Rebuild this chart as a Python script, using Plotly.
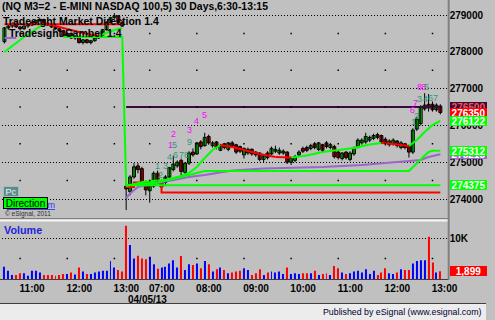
import plotly.graph_objects as go

FONT = "Liberation Sans, Arial, sans-serif"
W, H = 495, 320

# ------------------------------------------------------------------ data
# bar index: 0 = 04/05/13 06:30 (5-minute bars); negative = previous session
day1_first = -31
day1_open = [278275, 278650, 278700, 278750, 278675, 278625, 278700, 278725, 278800, 278850,
             278875, 278775, 278725, 278675, 278625, 278575, 278425, 278500, 278375, 278400,
             278250, 278325, 278250, 278300, 278375, 278450, 278600, 278800, 278925, 278975, 278800]
day1_high = [278675, 278750, 278800, 278800, 278700, 278725, 278775, 278825, 278875, 278925,
             278900, 278800, 278750, 278700, 278650, 278600, 278525, 278525, 278450, 278425,
             278350, 278350, 278325, 278400, 278475, 278625, 278825, 278950, 279050, 279000, 278850]
day1_low = [278225, 278600, 278650, 278650, 278575, 278600, 278650, 278700, 278750, 278825,
            278750, 278700, 278650, 278600, 278550, 278400, 278400, 278350, 278325, 278225,
            278200, 278225, 278200, 278275, 278350, 278425, 278575, 278775, 278900, 278775, 278675]
day1_close = [278650, 278700, 278750, 278675, 278625, 278700, 278725, 278800, 278850, 278875,
              278775, 278725, 278675, 278625, 278575, 278425, 278500, 278375, 278400, 278250,
              278325, 278250, 278300, 278375, 278450, 278600, 278800, 278925, 278975, 278800, 278700]

day2_open = [274350, 274200, 274600, 274900, 274825, 274450, 274225, 274350, 274700, 274325,
             274450, 274600, 274800, 274900, 275050, 274725, 274975, 275275, 275225, 275550,
             275450, 275700, 275450, 275550, 275325, 275500, 275350, 275525, 275475, 275425,
             275200, 275250, 275350, 275275, 275250, 275075, 275250, 275225, 275300, 275250,
             275250, 275275, 275000, 275050, 275200, 275375, 275400, 275375, 275500, 275350,
             275475, 275525, 275400, 275425, 275275, 275100, 275275, 275075, 275225, 275400,
             275525, 275550, 275600, 275650, 275750, 275725, 275625, 275475, 275500, 275575,
             275400, 275500, 275425, 275275, 275900, 276050, 276450, 276575, 276575, 276425,
             276525]
day2_high = [274450, 274650, 274975, 274975, 274875, 274500, 274450, 274750, 274775, 274525,
             274650, 274875, 275175, 275050, 275100, 275000, 275300, 275375, 275550, 275600,
             275800, 275750, 275575, 275575, 275500, 275525, 275550, 275575, 275500, 275450,
             275400, 275400, 275375, 275300, 275275, 275225, 275300, 275425, 275450, 275400,
             275350, 275300, 275150, 275200, 275325, 275425, 275450, 275500, 275550, 275550,
             275500, 275575, 275525, 275475, 275325, 275275, 275300, 275300, 275425, 275650,
             275650, 275800, 275725, 275775, 275800, 275750, 275675, 275625, 275650, 275600,
             275575, 275525, 275475, 275925, 276225, 276550, 276875, 276850, 276650, 276600,
             276575]
day2_low = [273700, 274100, 274550, 274700, 274350, 274100, 273900, 274300, 274400, 274250,
            274350, 274550, 274750, 274850, 274550, 274650, 274925, 275150, 275200, 275350,
            275425, 275475, 275400, 275350, 275300, 275350, 275300, 275400, 275225, 275250,
            275100, 275200, 275175, 275150, 275025, 275000, 275075, 275200, 275250, 275200,
            275200, 274950, 274925, 275000, 275150, 275250, 275275, 275325, 275350, 275300,
            275275, 275375, 275350, 275100, 275075, 275050, 275075, 275025, 275175, 275375,
            275475, 275500, 275550, 275600, 275625, 275500, 275450, 275425, 275450, 275400,
            275350, 275350, 275125, 275225, 275850, 276000, 276400, 276375, 276375, 276375,
            276300]
day2_close = [274275, 274600, 274875, 274800, 274400, 274250, 274425, 274700, 274450, 274475,
              274600, 274850, 274950, 275000, 274750, 274975, 275250, 275200, 275525, 275425,
              275675, 275525, 275525, 275400, 275450, 275400, 275525, 275450, 275275, 275300,
              275375, 275350, 275225, 275200, 275075, 275175, 275125, 275375, 275350, 275325,
              275300, 275000, 275100, 275150, 275275, 275300, 275325, 275450, 275400, 275525,
              275325, 275425, 275475, 275150, 275125, 275250, 275125, 275250, 275375, 275600,
              275600, 275700, 275675, 275725, 275675, 275550, 275525, 275575, 275600, 275450,
              275525, 275400, 275275, 275875, 276175, 276500, 276550, 276475, 276425, 276550,
              276350]

vol_day1 = [3000, 2000, 1000, 1000, 1400, 1400, 800, 2000, 2000, 1600,
            1000, 1000, 1000, 800, 1000, 1200, 1200, 1600, 1100, 2800,
            1800, 1200, 1200, 1600, 1800, 2000, 2000, 4400, 2800, 2200, 1800]
vol_day2 = [13000, 8300, 5000, 5700, 5000, 4800, 5400, 3600, 2500, 2800,
            3000, 3800, 4600, 2800, 5600, 2200, 3600, 3400, 3800, 2600,
            4400, 3600, 1800, 2400, 2800, 2200, 1400, 1600, 1800, 2000,
            2600, 2200, 1000, 1400, 2400, 1000, 1600, 1800, 1600, 1800,
            1200, 2800, 1200, 1400, 1200, 1400, 1400, 1400, 2000, 1000,
            1200, 1400, 1000, 3200, 2600, 1600, 1200, 1400, 1800, 2000,
            1600, 2400, 1200, 2000, 1000, 1600, 2600, 1400, 1200, 1600,
            2400, 2200, 2200, 3800, 4400, 4600, 4600, 10300, 4000, 1600,
            1899]

# Tradesight Market Direction (colour follows slope)
ma1_idx = [-31, -26, -21, -19, -15, -11, -7, -5, -3, -1]
ma1_val = [277995, 278402, 278755, 278728, 278620, 278511, 278429, 278511, 278592, 278647]
ma2_idx = [0, 4, 8, 10, 12, 14, 16, 18, 20, 22, 24, 27, 30, 34, 38, 42, 46, 50, 54, 58,
           62, 65, 68, 72, 74, 76, 78, 80]
ma2_val = [274350, 274460, 274500, 274517, 274571, 274626, 274707, 274870, 275115, 275332,
           275468, 275414, 275332, 275223, 275142, 275125, 275183, 275278, 275332, 275386,
           275481, 275522, 275495, 275441, 275604, 275821, 276011, 276122]
# Tradesight Camber bands
band_g_idx = [0, 8, 14, 20, 72, 75, 77, 78, 80]
band_g_val = [274375, 274450, 274598, 274761, 274761, 275060, 275278, 275312, 275312]
band_p1_idx = [-31, -28]
band_p1_val = [278375, 278375]
band_p2_idx = [0, 1, 3, 4, 8, 12, 16, 20, 23, 27, 35, 50, 60, 70, 73, 75, 77, 80]
band_p2_val = [274028, 274150, 274327, 274354, 274435, 274517, 274598, 274653, 274707, 274775,
               274830, 274870, 274925, 275006, 275033, 275060, 275142, 275215]
# levels
lvl_green_idx = [-16, -1, 0, 80]
lvl_green_val = [278400, 278400, 274375, 274375]
lvl_red1_idx = [-31, -1]
lvl_red1_val = [278750, 278750]
lvl_red2_idx = [0, 2, 9, 80]
lvl_red2_val = [274325, 274450, 274175, 274175]
lvl_purple_idx = [0, 80]
lvl_purple_val = [276500, 276500]

# TD-style counts: (label, bar index, price, kind)
td_text = ['1', '2', '3', '4', '5', '6', '7', '8', '9', '1', '2', '3', '4', '5',
           '1', '2', '6', '7', '3', '4', '8', '8', '5', '6', '7']
td_idx = [8, 8.8, 10, 11, 12.4, 12.6, 14, 15.3, 16, 11.3, 12, 16, 18, 20,
          73.2, 74, 72.8, 73.7, 74.8, 76.3, 74.8, 75.6, 76.6, 77.5, 78.8]
td_price = [274897, 274653, 274897, 275142, 275468, 275196, 275196, 275196, 275549, 275468,
            275767, 275875, 276120, 276283,
            276093, 276256, 276419, 276610, 276718, 276718, 277044, 277044, 277044, 276745, 276745]
td_kind = ['b', 'b', 'b', 'b', 'b', 'b', 'b', 'b', 'b', 's', 's', 's', 's', 's',
           'b', 'b', 's', 's', 'b', 'b', 's', 's', 'b', 'b', 'b']

time_tick_idx = [-27, -15, -3, 6, 18, 30, 42, 54, 66, 78]
time_tick_text = ['11:00', '12:00', '13:00', '07:00', '08:00', '09:00', '10:00', '11:00', '12:00', '13:00']
date_idx = 0
date_text = '04/05/13'
price_ticks = [274000, 275000, 276000, 277000, 278000, 279000]
vol_ticks = [10000]
vol_tick_text = ['10K']

title_text = '(NQ M3=2 - E-MINI NASDAQ 100,5) 30 Days,6:30-13:15'

# ------------------------------------------------------------------ build
GREEN, RED, BLUE = '#00FF00', '#FF0000', '#0000FF'
PURPLE, DPURPLE = '#9966CC', '#3A0A3A'
TEAL, MAGENTA = '#2E9A78', '#FF00FF'

idx = list(range(day1_first, day1_first + len(day1_open))) + list(range(0, len(day2_open)))
o = day1_open + day2_open
h = day1_high + day2_high
l = day1_low + day2_low
c = day1_close + day2_close
vol = vol_day1 + vol_day2
up = [cc >= oo for oo, cc in zip(o, c)]

fig = go.Figure()

# wicks
wx, wy = [], []
for i, hi, lo in zip(idx, h, l):
    wx += [i, i, None]
    wy += [lo, hi, None]
fig.add_trace(go.Scatter(x=wx, y=wy, mode='lines', line=dict(color='black', width=1),
                         hoverinfo='skip', xaxis='x', yaxis='y'))
# bodies
fig.add_trace(go.Bar(x=idx, y=[abs(cc - oo) for oo, cc in zip(o, c)],
                     base=[min(oo, cc) for oo, cc in zip(o, c)], width=0.75,
                     marker=dict(color=[GREEN if u else RED for u in up],
                                 line=dict(color='black', width=1)),
                     xaxis='x', yaxis='y'))


def line(xs, ys, color, width=2, shape='linear'):
    fig.add_trace(go.Scatter(x=xs, y=ys, mode='lines', line=dict(color=color, width=width, shape=shape),
                             hoverinfo='skip', xaxis='x', yaxis='y'))


line(lvl_red1_idx, lvl_red1_val, RED)
line(lvl_red2_idx, lvl_red2_val, RED, shape='hv')
line(lvl_purple_idx, lvl_purple_val, DPURPLE)
line(band_p1_idx, band_p1_val, PURPLE)
line(band_p2_idx, band_p2_val, PURPLE)
line(band_g_idx, band_g_val, GREEN)
line(lvl_green_idx, lvl_green_val, GREEN)

for xs, ys in ((ma1_idx, ma1_val), (ma2_idx, ma2_val)):
    gx, gy, rx, ry = [], [], [], []
    for k in range(len(xs) - 1):
        if ys[k + 1] >= ys[k]:
            gx += [xs[k], xs[k + 1], None]; gy += [ys[k], ys[k + 1], None]
        else:
            rx += [xs[k], xs[k + 1], None]; ry += [ys[k], ys[k + 1], None]
    line(gx, gy, GREEN)
    line(rx, ry, RED)

# volume
fig.add_trace(go.Bar(x=idx, y=vol, width=0.25,
                     marker=dict(color=[BLUE if u else RED for u in up], line=dict(width=0)),
                     xaxis='x2', yaxis='y2'))

# sparse vertical grid dots (midway between horizontal grid lines)
mid_p = [(a + b) / 2 for a, b in zip(price_ticks[:-1], price_ticks[1:])]
gdx, gdy = [], []
for t in time_tick_idx:
    for m in mid_p:
        gdx.append(t); gdy.append(m)
fig.add_trace(go.Scatter(x=gdx, y=gdy, mode='markers', marker=dict(symbol='square', size=1.5, color='black'),
                         hoverinfo='skip', xaxis='x', yaxis='y'))
fig.add_trace(go.Scatter(x=time_tick_idx, y=[vol_ticks[0] / 2] * len(time_tick_idx), mode='markers',
                         marker=dict(symbol='square', size=1.5, color='black'),
                         hoverinfo='skip', xaxis='x2', yaxis='y2'))

# ------------------------------------------------------------------ layout
X0, X1 = 2, 457
P_TOP, P_BOT = 0, 219
V_TOP, V_BOT = 222, 279
p_per_px = 27.17
p_hi = 279000 + 15 * p_per_px
p_lo = p_hi - (P_BOT - P_TOP) * p_per_px
v_hi = 10000 * (V_BOT - V_TOP) / 41.0


def xp(px):
    return px / W


def yp(py):
    return 1 - py / H


xr = [-31.625, -31.625 + (X1 - X0) / 4.0]
tickfont = dict(family=FONT, size=10, color='black', weight='bold')

fig.update_layout(
    width=W, height=H, margin=dict(l=0, r=0, t=0, b=0), autosize=False,
    paper_bgcolor='#C0C0C0', plot_bgcolor='#C0C0C0', showlegend=False, barmode='overlay',
    xaxis=dict(domain=[xp(X0), xp(X1)], range=xr, showgrid=False, showticklabels=False,
               zeroline=False, showline=False, anchor='y', fixedrange=True),
    xaxis2=dict(domain=[xp(X0), xp(X1)], range=xr, matches='x', anchor='y2', showgrid=False,
                zeroline=False, showline=False, tickmode='array', tickvals=time_tick_idx,
                ticktext=time_tick_text, ticks='', tickfont=tickfont, ticklabelshift=12,
                ticklabelstandoff=2),
    yaxis=dict(domain=[yp(P_BOT), yp(P_TOP)], range=[p_lo, p_hi], side='right', anchor='x',
               tickmode='array', tickvals=price_ticks, ticktext=[str(t) for t in price_ticks],
               ticks='', tickfont=tickfont, showgrid=True, gridcolor='black', griddash='1px,2px',
               gridwidth=1, zeroline=False, showline=False),
    yaxis2=dict(domain=[yp(V_BOT), yp(V_TOP)], range=[0, v_hi], side='right', anchor='x2',
                tickmode='array', tickvals=vol_ticks, ticktext=vol_tick_text, ticks='',
                tickfont=tickfont, showgrid=True, gridcolor='black', griddash='1px,2px',
                gridwidth=1, zeroline=False, showline=False),
)

shapes = [
    dict(type='rect', xref='paper', yref='paper', x0=0, x1=1, y0=0, y1=yp(304),
         fillcolor='#ECECEC', line=dict(width=0), layer='above'),
    dict(type='line', xref='paper', yref='paper', x0=0, x1=1, y0=yp(303.5), y1=yp(303.5),
         line=dict(color='#404040', width=1), layer='above'),
    dict(type='line', xref='paper', yref='paper', x0=0, x1=xp(X1), y0=yp(218.5), y1=yp(218.5),
         line=dict(color='#808080', width=1), layer='above'),
    dict(type='line', xref='paper', yref='paper', x0=0, x1=xp(X1), y0=yp(220.5), y1=yp(220.5),
         line=dict(color='#F4F4F4', width=2), layer='above'),
    dict(type='line', xref='paper', yref='paper', x0=0, x1=xp(X1), y0=yp(279.5), y1=yp(279.5),
         line=dict(color='#404040', width=1), layer='above'),
    dict(type='line', xref='paper', yref='paper', x0=xp(457), x1=xp(457), y0=yp(0), y1=yp(279.5),
         line=dict(color='#808080', width=2), layer='above'),
]
fig.update_layout(shapes=shapes)

ann = []


def text(t, x, y, size=10, color='black', weight='normal', xanchor='left', xref='paper', yref='paper', **kw):
    f = dict(family=FONT, size=size, color=color, weight=weight)
    if 'lineposition' in kw:
        f['lineposition'] = kw.pop('lineposition')
    ann.append(dict(text=t, x=x, y=y, xref=xref, yref=yref, xanchor=xanchor, yanchor='middle',
                    showarrow=False, font=f, **kw))


text(title_text, xp(0), yp(6), size=10.4, weight='bold')
text('Tradesight Market Direction 1.4', xp(1), yp(21), size=10.5, weight='bold')
text('Tradesight Camber 1.4', xp(7), yp(33), size=10.5, weight='bold')

# TD counts
for t, i, p, k in zip(td_text, td_idx, td_price, td_kind):
    text(t, i, p, size=9, color=TEAL if k == 'b' else MAGENTA, xanchor='center', xref='x', yref='y')


# right-axis value boxes (last values)
def box(val, bg, fg='white', yref='y', label=None):
    ann.append(dict(text=label if label else str(int(round(val))), x=xp(458), y=val, xref='paper',
                    yref=yref, xanchor='left', yanchor='middle', showarrow=False, width=37, height=10,
                    bgcolor=bg, borderpad=0, borderwidth=0,
                    font=dict(family=FONT, size=10, color=fg, weight='bold')))


box(lvl_purple_val[-1], DPURPLE, fg='#FF5050')
box(day2_close[-1], RED)
box(ma2_val[-1], GREEN)
box(band_p2_val[-1], PURPLE)
box(band_g_val[-1], GREEN)
box(lvl_green_val[-1], GREEN)
box(vol_day2[-1], RED, yref='y2', label=f"{vol_day2[-1]:,}")

# lower-left widgets
text('esignal.com', xp(58), yp(205), size=9, color='#3333FF', xanchor='right', lineposition='under')
ann.append(dict(text='Pc', x=xp(3), y=yp(191.5), xref='paper', yref='paper', xanchor='left', yanchor='middle',
                showarrow=False, width=14, height=9, bgcolor='#5E8C8C', bordercolor='#9FC0C0', borderwidth=1,
                borderpad=0, font=dict(family=FONT, size=9, color='#E8F4F4')))
ann.append(dict(text='Direction', x=xp(3), y=yp(203), xref='paper', yref='paper', xanchor='left', yanchor='middle',
                showarrow=False, width=43, height=10, bgcolor=GREEN, bordercolor='black', borderwidth=1,
                borderpad=0, font=dict(family=FONT, size=10, color='black')))
text('© eSignal, 2011', xp(3), yp(213.5), size=6.5, color='#303030')

text('Volume', xp(2), yp(230), size=10.8, color='#1F1FDF', weight='bold')
text(date_text, date_idx, yp(299.5), size=10, weight='bold', xref='x2')
text('Published by eSignal (www.esignal.com)', xp(492), yp(311.5), size=8.8, color='#000033', xanchor='right')

fig.update_layout(annotations=ann)
fig.write_html('out.html')
